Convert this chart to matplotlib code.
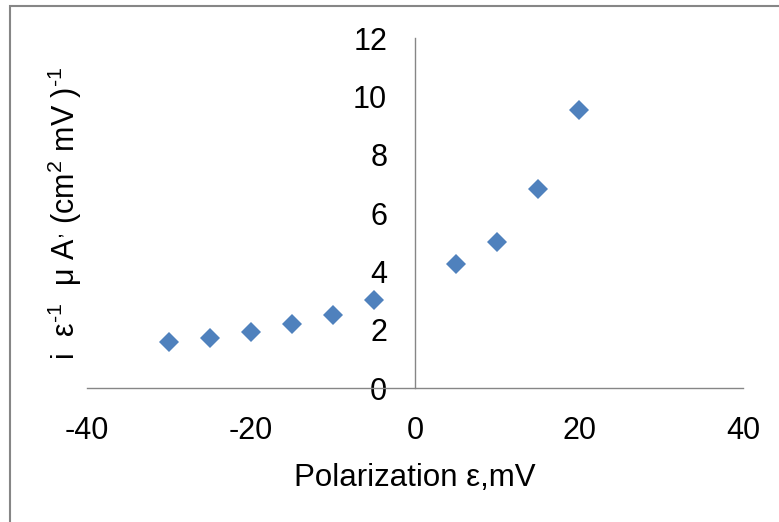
import matplotlib
matplotlib.use("Agg")
import matplotlib.pyplot as plt
from matplotlib.patches import Rectangle

# ── data ────────────────────────────────────────────────────────────────────
polarization = [-30, -25, -20, -15, -10, -5, 5, 10, 15, 20]
conductance  = [1.60, 1.74, 1.94, 2.19, 2.52, 3.02, 4.25, 5.02, 6.85, 9.55]

x_ticks = [-40, -20, 0, 20, 40]
y_ticks = [0, 2, 4, 6, 8, 10, 12]

plt.rcParams.update({
    "font.family":       ["Liberation Sans", "DejaVu Sans"],
    "font.size":         22,
    "axes.unicode_minus": False,
    "mathtext.fontset":  "custom",
    "mathtext.rm":       "Liberation Sans",
    "mathtext.it":       "Liberation Sans",
})

AXIS_GREY   = "#868686"
POINT_COLOR = "#4F81BD"

fig = plt.figure(figsize=(7.79, 5.22), dpi=100)
ax = fig.add_axes([0.1117, 0.2561, 0.8421, 0.6705])

ax.plot(polarization, conductance, linestyle="none", marker="D",
        markersize=9.7, markeredgewidth=0, color=POINT_COLOR, clip_on=False)

ax.set_xlim(-40, 40)
ax.set_ylim(0, 12)
ax.set_xticks(x_ticks)
ax.set_yticks(y_ticks)

# Excel-style crossing axes: y axis at x = 0
ax.spines["top"].set_visible(False)
ax.spines["right"].set_visible(False)
ax.spines["left"].set_position(("data", 0))
for side in ("left", "bottom"):
    ax.spines[side].set_color(AXIS_GREY)
    ax.spines[side].set_linewidth(1.0)

ax.tick_params(axis="both", length=0)
ax.tick_params(axis="y", pad=20)
ax.tick_params(axis="x", pad=20)

ax.set_xlabel("Polarization ε,mV", fontsize=22.5, labelpad=12)
ax.set_ylabel(r"i  ε$^{\text{-1}}$  μ A$^{,}$ (cm$^{2}$ mV )$^{\text{-1}}$")
# put the y label at the far left of the figure
ax.yaxis.set_label_coords(65 / 779, 0.2561 + 0.6705 / 2,
                          transform=fig.transFigure)
ax.yaxis.label.set_verticalalignment("center")

# chart-area border (only top and left edges visible in the crop)
fig.patches.append(Rectangle((10 / 779, -0.1), 1.2, 1.1 - 6 / 522,
                             transform=fig.transFigure, fill=False,
                             edgecolor=AXIS_GREY, linewidth=1.5))

fig.savefig("out.png", dpi=100)
